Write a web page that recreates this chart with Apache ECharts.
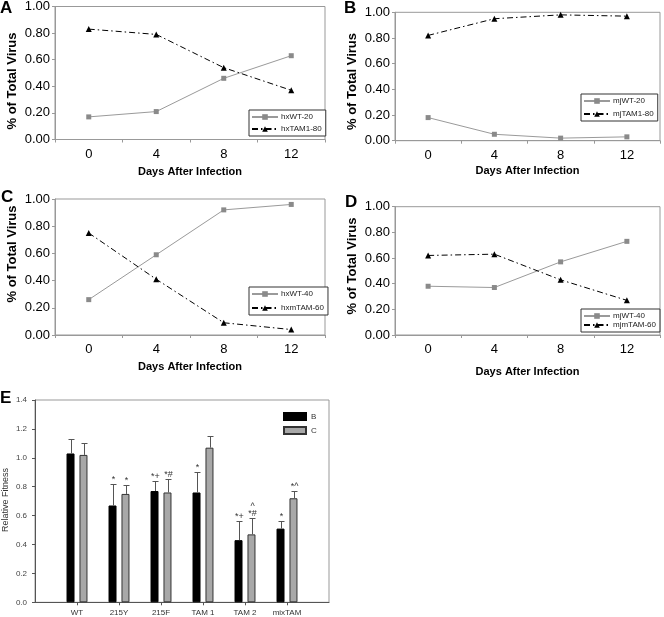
<!DOCTYPE html>
<html><head><meta charset="utf-8">
<script src="https://cdn.jsdelivr.net/npm/echarts@6/dist/echarts.min.js"></script>
<style>html,body{margin:0;padding:0;background:#fff}#c{width:664px;height:617px}</style>
</head><body><div id="c"></div>
<script>
// ---- data ----
const days = ['0', '4', '8', '12'];
const hxWT20 = [0.17, 0.21, 0.46, 0.63];
const hxTAM180 = [0.83, 0.79, 0.54, 0.37];
const mjWT20 = [0.18, 0.05, 0.02, 0.03];
const mjTAM180 = [0.82, 0.95, 0.98, 0.97];
const hxWT40 = [0.26, 0.59, 0.92, 0.96];
const hxmTAM60 = [0.75, 0.41, 0.09, 0.04];
const mjWT40 = [0.38, 0.37, 0.57, 0.73];
const mjmTAM60 = [0.62, 0.63, 0.43, 0.27];

const fitCats = ['WT', '215Y', '215F', 'TAM 1', 'TAM 2', 'mixTAM'];
const fitB = [1.03, 0.67, 0.77, 0.76, 0.43, 0.51];
const fitC = [1.02, 0.75, 0.76, 1.07, 0.47, 0.72];
const sdB = [0.10, 0.15, 0.07, 0.14, 0.13, 0.05];
const sdC = [0.08, 0.06, 0.09, 0.08, 0.11, 0.05];
const markB = ['', '*', '*+', '*', '*+', '*'];
const markC = ['', '*', '*#', '', '^\n*#', '*^'];

// ---- build ----
const FF = 'Arial, "Liberation Sans", sans-serif';
const grids = [
  {left: 55, top: 5.5, width: 270, height: 134},
  {left: 395, top: 12.3, width: 265, height: 128.4},
  {left: 55, top: 199, width: 270, height: 136},
  {left: 395, top: 206.7, width: 265, height: 128.3},
  {left: 35, top: 400, width: 294, height: 202.3}
];
grids.forEach((g, i) => { g.show = true; g.borderColor = '#999'; g.borderWidth = 1; g.backgroundColor = 'transparent'; });

const panels = [
  {names: ['hxWT-20', 'hxTAM1-80'], wt: hxWT20, tam: hxTAM180, legend: {left: 249, top: 110, itemGap: 4}, nameGap: 27},
  {names: ['mjWT-20', 'mjTAM1-80'], wt: mjWT20, tam: mjTAM180, legend: {left: 581, top: 94, itemGap: 5}, nameGap: 25},
  {names: ['hxWT-40', 'hxmTAM-60'], wt: hxWT40, tam: hxmTAM60, legend: {left: 249, top: 287, itemGap: 6}, nameGap: 26},
  {names: ['mjWT-40', 'mjmTAM-60'], wt: mjWT40, tam: mjmTAM60, legend: {left: 581, top: 309, itemGap: 1}, nameGap: 31}
];

const xAxes = [], yAxes = [], series = [], legends = [];
panels.forEach((p, i) => {
  xAxes.push({
    type: 'category', gridIndex: i, data: days, boundaryGap: true,
    name: 'Days After Infection', nameLocation: 'middle', nameGap: p.nameGap,
    nameTextStyle: {fontFamily: FF, fontWeight: 'bold', fontSize: 11, color: '#000'},
    axisLine: {lineStyle: {color: '#999'}},
    axisTick: {show: true, length: 3, lineStyle: {color: '#999'}},
    axisLabel: {fontFamily: FF, fontSize: 13, color: '#000', margin: 8}
  });
  yAxes.push({
    type: 'value', gridIndex: i, min: 0, max: 1, interval: 0.2,
    splitLine: {show: false},
    axisLine: {show: true, lineStyle: {color: '#999'}},
    axisTick: {show: true, length: 3, lineStyle: {color: '#999'}},
    axisLabel: {fontFamily: FF, fontSize: 13, color: '#000', margin: 5, formatter: v => v.toFixed(2)}
  });
  series.push({
    type: 'line', name: p.names[0], xAxisIndex: i, yAxisIndex: i, data: p.wt,
    symbol: 'rect', symbolSize: 5, color: '#8a8a8a',
    itemStyle: {color: '#8a8a8a'}, lineStyle: {color: '#9a9a9a', width: 1}
  });
  series.push({
    type: 'line', name: p.names[1], xAxisIndex: i, yAxisIndex: i, data: p.tam,
    symbol: 'triangle', symbolSize: 6, color: '#000',
    itemStyle: {color: '#000'}, lineStyle: {color: '#000', width: 1, type: [6, 3, 1.5, 3]}
  });
  legends.push(Object.assign({
    data: p.names, orient: 'vertical', itemWidth: 26, itemHeight: 7,
    padding: [3, 4, 3, 2], borderColor: '#333', borderWidth: 1, backgroundColor: '#fff',
    borderRadius: 0, selectedMode: false,
    textStyle: {fontFamily: FF, fontSize: 8, color: '#222', padding: [0, 0, 0, -2]}
  }, p.legend));
});

// panel E
xAxes.push({
  type: 'category', gridIndex: 4, data: [''].concat(fitCats, ['']), boundaryGap: false,
  axisLine: {lineStyle: {color: '#555'}},
  axisTick: {show: true, length: 3, lineStyle: {color: '#555'},
    interval: (idx) => idx > 0 && idx <= fitCats.length},
  axisLabel: {fontFamily: FF, fontSize: 8, color: '#333', margin: 6, interval: 0}
});
yAxes.push({
  type: 'value', gridIndex: 4, min: 0, max: 1.4, interval: 0.2,
  splitLine: {show: false},
  axisLine: {show: true, lineStyle: {color: '#555'}},
  axisTick: {show: true, length: 3, lineStyle: {color: '#555'}},
  axisLabel: {fontFamily: FF, fontSize: 8, color: '#444', margin: 8, formatter: v => v.toFixed(1)}
});
const pad = arr => ['-'].concat(arr, ['-']);
series.push({
  type: 'bar', name: 'B', xAxisIndex: 4, yAxisIndex: 4, data: pad(fitB),
  barWidth: 8, barGap: '62%', itemStyle: {color: '#000', borderColor: '#000', borderWidth: 1}
});
series.push({
  type: 'bar', name: 'C', xAxisIndex: 4, yAxisIndex: 4, data: pad(fitC),
  barWidth: 8, barGap: '62%', itemStyle: {color: '#a8a8a8', borderColor: '#333', borderWidth: 1}
});
function errRender(offset, marks) {
  return function (params, api) {
    const ci = api.value(0), v = api.value(1), sd = api.value(2);
    const p0 = api.coord([ci, v]);
    const p1 = api.coord([ci, v + sd]);
    const x = Math.round(p0[0] + offset) + 0.5;
    const y1 = Math.round(p1[1]) + 0.5;
    const children = [
      {type: 'line', shape: {x1: x, y1: p0[1], x2: x, y2: y1}, style: {stroke: '#555', lineWidth: 1}},
      {type: 'line', shape: {x1: x - 3, y1: y1, x2: x + 3, y2: y1}, style: {stroke: '#555', lineWidth: 1}}
    ];
    const m = marks[params.dataIndex];
    if (m) {
      children.push({type: 'text', style: {text: m, x: x, y: y1 - 1, align: 'center', verticalAlign: 'bottom',
        fontFamily: FF, fontSize: 9, lineHeight: 7, fill: '#333'}});
    }
    return {type: 'group', children: children};
  };
}
series.push({
  type: 'custom', name: 'errB', xAxisIndex: 4, yAxisIndex: 4, z: 5,
  renderItem: errRender(-6.5, markB),
  data: fitB.map((v, i) => [i + 1, v, sdB[i]])
});
series.push({
  type: 'custom', name: 'errC', xAxisIndex: 4, yAxisIndex: 4, z: 5,
  renderItem: errRender(6.5, markC),
  data: fitC.map((v, i) => [i + 1, v, sdC[i]])
});
legends.push({
  data: ['B', 'C'], orient: 'vertical', left: 283, top: 412, itemWidth: 22, itemHeight: 7, itemGap: 5,
  padding: 0, selectedMode: false, icon: 'rect',
  textStyle: {fontFamily: FF, fontSize: 8, color: '#333'}
});

const letters = [['A', 0, 0], ['B', 344, 0], ['C', 1, 189], ['D', 345, 194], ['E', 0, 390]];
const yTitles = [
  ['% of Total Virus', 12.5, 81, 'bold 13px ' + FF],
  ['% of Total Virus', 352, 81.5, 'bold 13px ' + FF],
  ['% of Total Virus', 12.5, 254, 'bold 13px ' + FF],
  ['% of Total Virus', 352, 266, 'bold 13px ' + FF],
  ['Relative Fitness', 6, 500, '9px ' + FF]
];
const graphics = yTitles.map(t => ({
  type: 'text', x: t[1], y: t[2], rotation: Math.PI / 2,
  style: {text: t[0], font: t[3], align: 'center', verticalAlign: 'middle', fill: t[0] === 'Relative Fitness' ? '#333' : '#000'}
}));

const option = {
  animation: false,
  backgroundColor: '#fff',
  title: letters.map(l => ({text: l[0], left: l[1], top: l[2], padding: 0,
    textStyle: {fontFamily: FF, fontWeight: 'bold', fontSize: 17, color: '#000'}})),
  grid: grids,
  xAxis: xAxes,
  yAxis: yAxes,
  legend: legends,
  graphic: graphics,
  series: series
};
const chart = echarts.init(document.getElementById('c'), null, {renderer: 'canvas'});
chart.setOption(option);
</script>
</body></html>
